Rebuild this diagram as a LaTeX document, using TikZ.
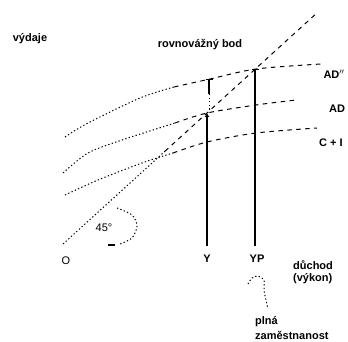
\documentclass[tikz,border=0pt]{standalone}
\usepackage{fontspec}
\setmainfont{Liberation Sans}
\usetikzlibrary{calc,arrows.meta}
\tikzset{
  thick line/.style={line width=1.4pt},
  dotline/.style={line width=1pt, dash pattern=on 1.3pt off 2.3pt},
  dashline/.style={line width=1pt, dash pattern=on 4.5pt off 4.5pt},
  lbl/.style={font=\bfseries\fontsize{11}{13}\selectfont, inner sep=0pt},
  axlbl/.style={font=\fontsize{11}{13}\selectfont, inner sep=0pt},
}

\begin{document}
\begin{tikzpicture}[x=1pt,y=-1pt]
  \useasboundingbox (0,0) rectangle (348,342);
  % texts
  \node[lbl] (vydaje) at (30,39) {výdaje};
  \node[lbl] (rbod) at (200,45) {rovnovážný bod};
  \node[lbl] (adtwo) at (334,74) {AD$''$};
  \node[lbl] (ad) at (337,109) {AD};
  \node[lbl] (ci) at (331,143) {C + I};
  \node[axlbl] (deg) at (104,228) {45°};
  \node[axlbl] (o) at (66,261) {O};
  \node[lbl] (y) at (207,259) {Y};
  \node[lbl] (yp) at (257,259) {YP};
  \node[lbl, anchor=west] (duchod) at (293,265) {důchod};
  \node[lbl, anchor=west] (vykon) at (293,279) {(výkon)};
  \node[lbl, anchor=west] (plna) at (255,322) {plná};
  \node[lbl, anchor=west] (zam) at (255,335) {zaměstnanost};
  % 45 degree line
  \coordinate (O) at (63,244);
  \coordinate (T) at (318,12);
  \draw[dotline] (O) -- ($(O)!0.4!(T)$);
  \draw[dashline] ($(O)!0.4!(T)$) -- (T);
  % expenditure curves
  \draw[dotline] plot[smooth] coordinates {(65,137) (88,123) (140,98) (174,87)};
  \draw[dashline] plot[smooth] coordinates {(174,87) (210,79) (256,69) (321,64)};
  \draw[dotline] plot[smooth] coordinates {(63,173) (88,153) (122,140) (175,123)};
  \draw[dashline] plot[smooth] coordinates {(175,123) (207,113) (256,105) (296,100)};
  \draw[dotline] plot[smooth] coordinates {(65,195) (98,180) (142,163) (173,153)};
  \draw[dashline] plot[smooth] coordinates {(173,153) (207,142) (256,133) (317,128)};
  % verticals
  \coordinate (E) at (207,113);
  \coordinate (Eb) at (207,246);
  \coordinate (F) at (255,69);
  \coordinate (Fb) at (255,246);
  \draw[thick line, {Latex[length=4pt,width=5pt]}-] (E) -- (Eb);
  \draw[thick line, {Bar[width=7pt]}-] (F) -- (Fb);
  % gap
  \coordinate (G1) at (209,79);
  \coordinate (G2) at (209,94);
  \coordinate (G3) at (209,110);
  \draw[thick line, {Bar[width=7pt]}-] (G1) -- (G2);
  \draw[dotline] (G2) -- (G3);
  % angle mark
  \draw[dotline] plot[smooth] coordinates {(117,208) (132,215) (137,226) (132,238) (120,244)};
  \draw[line width=1.2pt] (108,245) -- (115,245);
  % pointer to full employment
  \draw[dotline] plot[smooth] coordinates {(248,284) (252,278) (258,276) (264,280) (264,290) (266,300) (268,309)};
\end{tikzpicture}
\end{document}
